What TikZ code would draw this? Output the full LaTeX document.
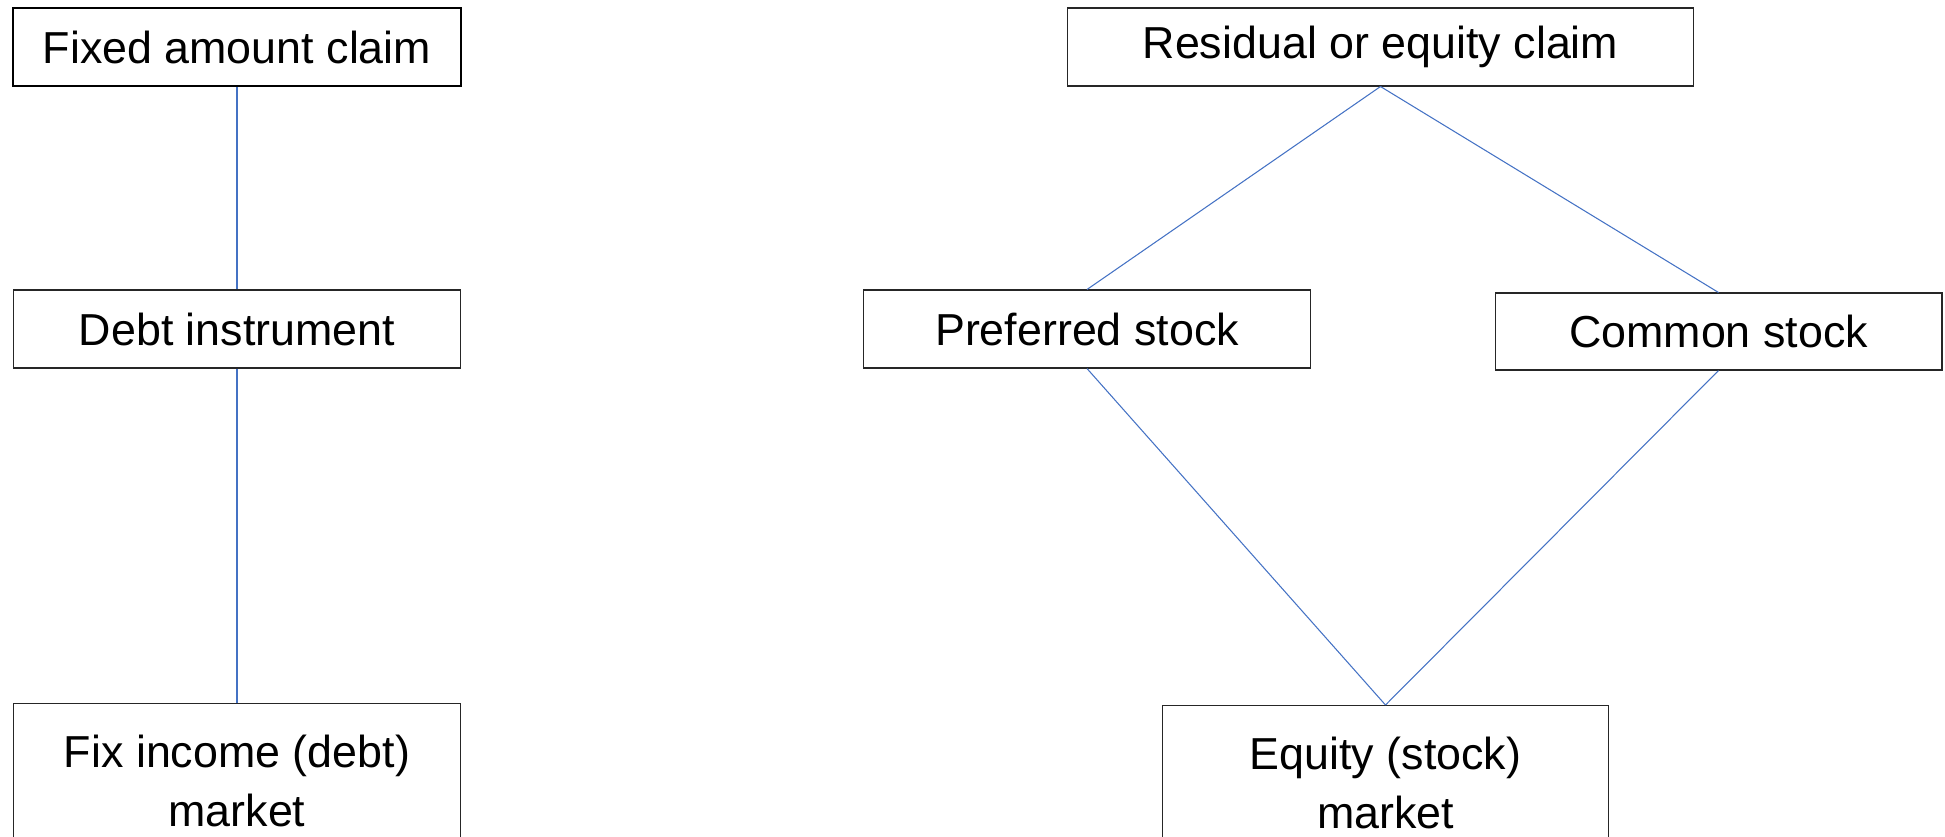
\documentclass[tikz,border=0pt]{standalone}
\usepackage{fontspec}
\setmainfont{Liberation Sans}
\definecolor{linkblue}{HTML}{4472C4}

\begin{document}
\begin{tikzpicture}[x=0.02cm,y=-0.02cm,
  box/.style={draw=black!85,line width=0.6pt,align=center,inner sep=2pt,
    font=\fontsize{25.5}{34}\selectfont},
  link/.style={draw=linkblue,line width=0.6pt}]
  \clip (0,0) rectangle (1945,836);
  % fixed amount side
  \node[box,line width=1.2pt,draw=black,minimum width=8.96cm,minimum height=1.56cm] (fixed) at (237,47) {Fixed amount claim};
  \node[box,minimum width=8.96cm,minimum height=1.56cm] (debt) at (237,329) {Debt instrument};
  \node[box,minimum width=8.96cm,minimum height=3.1cm] (fixinc) at (237,781) {Fix income (debt)\\market};
  \draw[link] (fixed.south) -- (debt.north);
  \draw[link] (debt.south) -- (fixinc.north);
  %
  % residual side
  \node[box,minimum width=12.54cm,minimum height=1.56cm] (resid) at (1380.5,47) {Residual or equity claim};
  \node[box,minimum width=8.96cm,minimum height=1.56cm] (pref) at (1087,329) {Preferred stock};
  \node[box,minimum width=8.94cm,minimum height=1.54cm] (common) at (1718.5,331.5) {Common stock};
  \node[box,minimum width=8.94cm,minimum height=3.1cm] (equity) at (1385.5,783) {Equity (stock)\\market};
  \draw[link] (resid.south) -- (pref.north);
  \draw[link] (resid.south) -- (common.north);
  \draw[link] (pref.south) -- (equity.north);
  \draw[link] (common.south) -- (equity.north);
\end{tikzpicture}
\end{document}
